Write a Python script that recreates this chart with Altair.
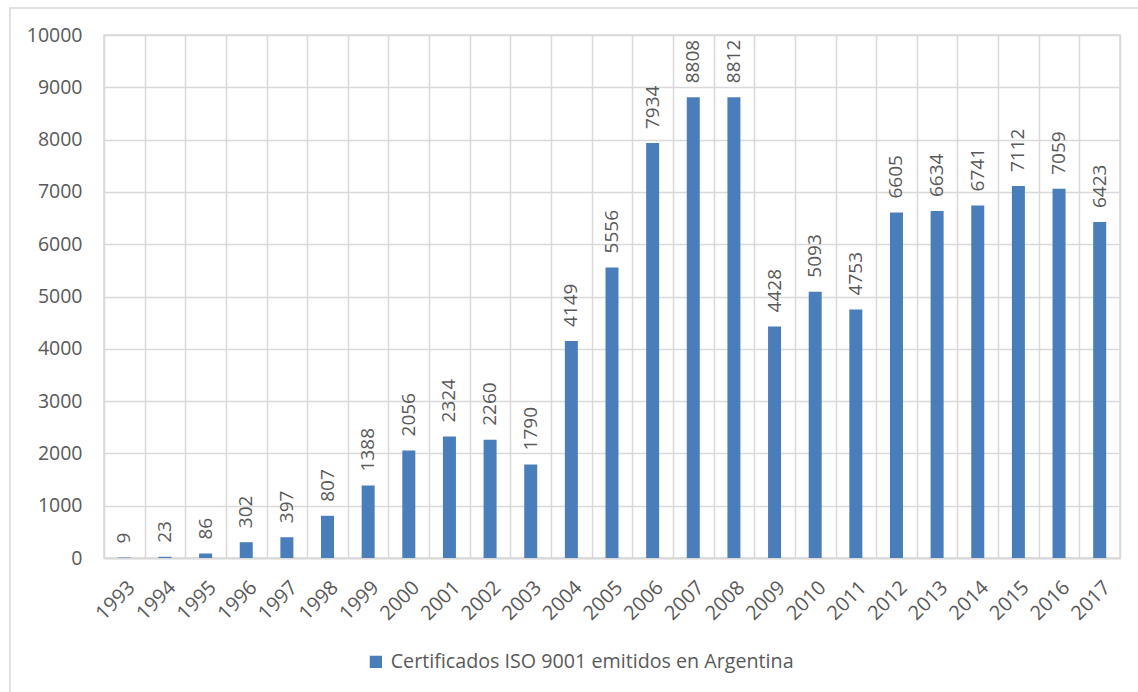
import altair as alt
import pandas as pd

years = [str(y) for y in range(1993, 2018)]
values = [9, 23, 86, 302, 397, 807, 1388, 2056, 2324, 2260, 1790, 4149, 5556,
          7934, 8808, 8812, 4428, 5093, 4753, 6605, 6634, 6741, 7112, 7059, 6423]
series_name = "Certificados ISO 9001 emitidos en Argentina"
y_ticks = list(range(0, 10001, 1000))

df = pd.DataFrame({"year": years, "value": values, "serie": series_name})

GREY = "#595959"
GRID = "#d9d9d9"
BLUE = "#4a7ebb"
FONT = "Open Sans"

x_enc = alt.X("year:N", sort=years,
              scale=alt.Scale(paddingInner=0, paddingOuter=0),
              axis=alt.Axis(title=None, labelAngle=-45, labelAlign="right",
                            labelBaseline="top", labelPadding=19, ticks=False,
                            grid=True, tickBand="extent", gridColor=GRID,
                            gridWidth=1.5, domainColor=GRID, domainWidth=2,
                            labelColor=GREY, labelFontSize=20, labelFont=FONT))
y_enc = alt.Y("value:Q",
              scale=alt.Scale(domain=[0, 10000], nice=False),
              axis=alt.Axis(title=None, values=y_ticks, format="d", ticks=False,
                            domain=False, grid=True, gridColor=GRID, gridWidth=1.5,
                            labelColor=GREY, labelFontSize=19.5, labelFont=FONT,
                            labelPadding=22))

border = alt.Chart(pd.DataFrame({"a": [0]})).mark_rect(
    fillOpacity=0, stroke=GRID, strokeWidth=1.5
).encode(x=alt.value(-94), x2=alt.value(1045), y=alt.value(-27), y2=alt.value(700))

bars = alt.Chart(df).mark_bar(size=13).encode(
    x=x_enc, y=y_enc,
    color=alt.Color("serie:N",
                    scale=alt.Scale(domain=[series_name], range=[BLUE]),
                    legend=alt.Legend(title=None, orient="none", legendX=262,
                                      legendY=617, symbolType="square",
                                      symbolSize=150, labelFontSize=19.7,
                                      labelFont=FONT, labelColor=GREY,
                                      labelLimit=0,
                                      symbolStrokeWidth=0, labelOffset=5))
)

labels = alt.Chart(df).mark_text(
    angle=270, align="left", baseline="middle", yOffset=-14,
    fontSize=19, font=FONT, color=GREY
).encode(x=alt.X("year:N", sort=years), y="value:Q", text="value:Q")

chart = alt.layer(bars, labels, border).properties(
    width=1016, height=523,
    autosize=alt.AutoSizeParams(type="none"),
    padding={"left": 104, "top": 35, "right": 18, "bottom": 134},
    background="white"
).configure_view(stroke=GRID, strokeWidth=1.5)

chart.save("out.html", embed_options={"renderer": "svg", "actions": False})
